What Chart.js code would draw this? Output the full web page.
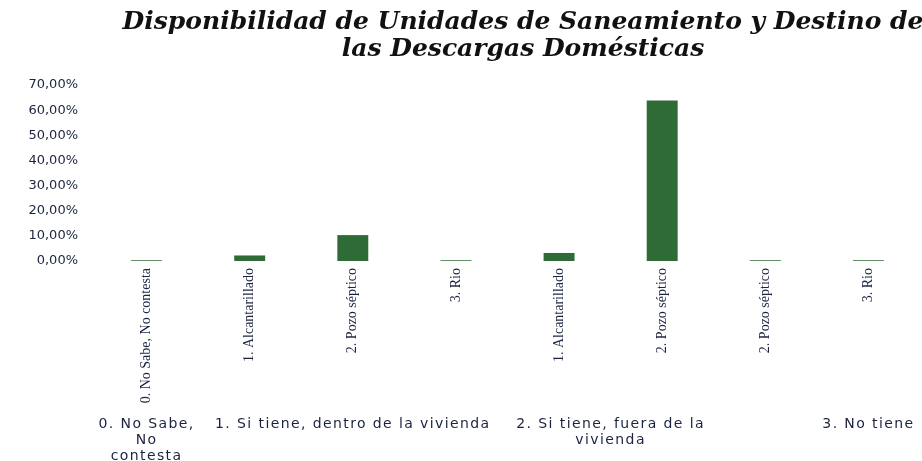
<!DOCTYPE html>
<html>
<head>
<meta charset="utf-8">
<script src="https://cdn.jsdelivr.net/npm/chart.js@4/dist/chart.umd.min.js"></script>
<style>
html,body{margin:0;padding:0;background:#fff;}
#wrap{width:922px;height:461px;position:relative;}
</style>
</head>
<body>
<div id="wrap"><canvas id="c" width="922" height="461"></canvas></div>
<script>
const titleLines = ["Disponibilidad de Unidades de Saneamiento y Destino de", "las Descargas Domésticas"];
const categories = ["0. No Sabe, No contesta", "1. Alcantarillado", "2. Pozo séptico", "3. Rio", "1. Alcantarillado", "2. Pozo séptico", "2. Pozo séptico", "3. Rio"];
const values = [0.3, 2.2, 10.3, 0.3, 3.2, 63.8, 0.3, 0.3];
const groupLabels = [["0. No Sabe,", "No", "contesta"], ["1. Si tiene, dentro de la vivienda"], ["2. Si tiene, fuera de la", "vivienda"], ["3. No tiene"]];
const groupFrom = [0, 1, 4, 7];
const groupTo = [0, 3, 5, 7];
const yTicks = [0, 10, 20, 30, 40, 50, 60, 70];

const textColor = '#1b2340';

const titlePlugin = {
  id: 'titleDraw',
  afterDraw(chart) {
    const ctx = chart.ctx;
    ctx.save();
    ctx.fillStyle = '#111';
    ctx.font = 'italic bold 25px "DejaVu Serif"';
    ctx.textAlign = 'center';
    ctx.textBaseline = 'alphabetic';
    ctx.fillText(titleLines[0], 523, 29);
    ctx.fillText(titleLines[1], 523, 56);
    ctx.restore();
  }
};

const groupPlugin = {
  id: 'groupLabels',
  afterDraw(chart) {
    const ctx = chart.ctx;
    const xs = chart.scales.x;
    ctx.save();
    ctx.fillStyle = textColor;
    ctx.font = '14px "DejaVu Sans"';
    if ('letterSpacing' in ctx) ctx.letterSpacing = '1.4px';
    ctx.textAlign = 'center';
    ctx.textBaseline = 'middle';
    groupLabels.forEach((lines, i) => {
      const cx = (xs.getPixelForValue(groupFrom[i]) + xs.getPixelForValue(groupTo[i])) / 2;
      lines.forEach((ln, j) => {
        ctx.fillText(ln, cx, 424 + j * 16);
      });
    });
    ctx.restore();
  }
};

new Chart(document.getElementById('c'), {
  type: 'bar',
  data: {
    labels: categories,
    datasets: [{
      data: values,
      backgroundColor: '#2f6b36',
      borderWidth: 0,
      barPercentage: 0.3,
      categoryPercentage: 1.0
    }]
  },
  options: {
    responsive: false,
    animation: false,
    layout: { padding: { top: 85, right: 2, left: 0, bottom: 0 } },
    plugins: {
      legend: { display: false },
      title: { display: false },
      tooltip: { enabled: false }
    },
    scales: {
      x: {
        grid: { display: false, drawTicks: false },
        border: { display: false },
        ticks: {
          minRotation: 90,
          maxRotation: 90,
          autoSkip: false,
          padding: 7,
          color: textColor,
          font: { family: '"Liberation Serif"', size: 14 }
        },
        afterFit(scale) { scale.height = 200; }
      },
      y: {
        min: 0,
        max: 70,
        afterBuildTicks(scale) { scale.ticks = yTicks.map(v => ({ value: v })); },
        grid: { display: false, drawTicks: false },
        border: { display: false },
        ticks: {
          padding: 17,
          color: textColor,
          font: { family: '"DejaVu Sans"', size: 13 },
          callback: v => v.toFixed(2).replace('.', ',') + '%'
        },
        afterFit(scale) { scale.width = 95; }
      }
    }
  },
  plugins: [titlePlugin, groupPlugin]
});
</script>
</body>
</html>
